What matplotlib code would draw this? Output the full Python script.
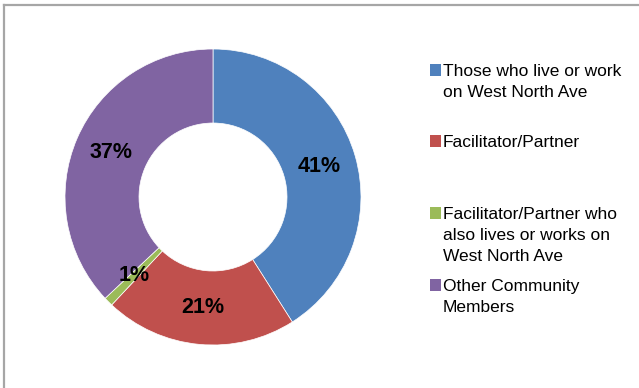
import numpy as np
import matplotlib.pyplot as plt
from matplotlib.patches import Rectangle
from matplotlib.lines import Line2D

plt.rcParams['font.family'] = ['Liberation Sans', 'DejaVu Sans']

# data
labels = ['Those who live or work\non West North Ave',
          'Facilitator/Partner',
          'Facilitator/Partner who\nalso lives or works on\nWest North Ave',
          'Other Community\nMembers']
values = [41, 21, 1, 37]
colors = ['#4F81BD', '#C0504D', '#9BBB59', '#8064A2']

W, H = 639, 388
fig = plt.figure(figsize=(W / 100, H / 100), dpi=100)

# pie centered at (213,197) px, radius 148 px
cx, cy, r = 213, 197, 148
ax = fig.add_axes([(cx - r) / W, (H - cy - r) / H, 2 * r / W, 2 * r / H])
wedges, texts = ax.pie(values, colors=colors, startangle=90, counterclock=False,
                       radius=1.0,
                       wedgeprops=dict(width=0.5, edgecolor='white', linewidth=0.5))
ax.set_xlim(-1, 1)
ax.set_ylim(-1, 1)
ax.set_aspect('equal')
ax.axis('off')

# percentage labels at ring middle
total = sum(values)
start = 90.0
for v in values:
    mid = start - 360.0 * v / total / 2
    ang = np.radians(mid)
    ax.text(0.75 * np.cos(ang), 0.75 * np.sin(ang), '%d%%' % round(100 * v / total),
            ha='center', va='center', fontsize=15.5, fontweight='bold', color='black')
    start -= 360.0 * v / total

# legend, placed like the original
legend_base = [76, 147, 219, 291]  # first-line baselines, px
line_h = 21
for lab, col, y in zip(labels, colors, legend_base):
    fig.patches.append(Rectangle((430 / W, (H - y) / H), 11 / W, 12 / H,
                                 transform=fig.transFigure, facecolor=col,
                                 edgecolor='none'))
    for i, line in enumerate(lab.split('\n')):
        fig.text(443 / W, (H - y - i * line_h) / H, line, ha='left', va='baseline',
                 fontsize=12.5, color='black')

# chart area border (top and left visible)
fig.add_artist(Line2D([3.5 / W, 3.5 / W], [0, (H - 5) / H], color='#A6A6A6',
                      linewidth=1.6, transform=fig.transFigure))
fig.add_artist(Line2D([3.5 / W, 1], [(H - 5) / H, (H - 5) / H], color='#A6A6A6',
                      linewidth=1.6, transform=fig.transFigure))

fig.savefig('out.png', dpi=100)
